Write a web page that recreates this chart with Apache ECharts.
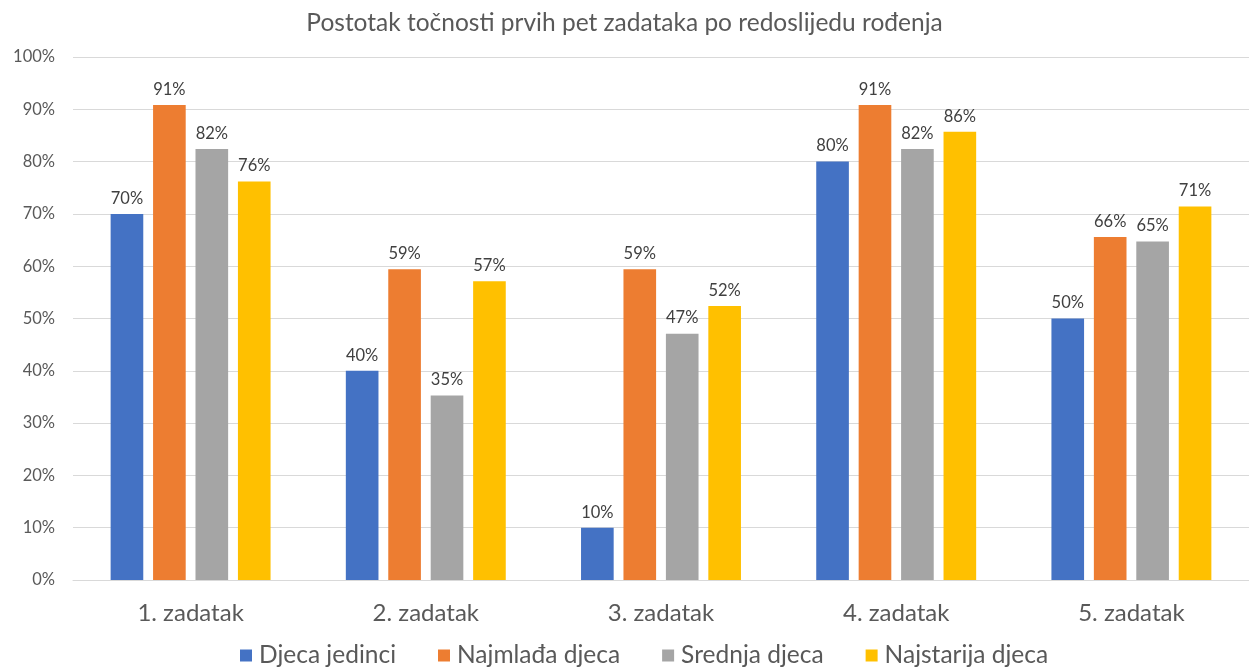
<!DOCTYPE html>
<html><head><meta charset="utf-8">
<script src="https://cdn.jsdelivr.net/npm/echarts@6/dist/echarts.min.js"></script>
<style>html,body{margin:0;padding:0;background:#fff}#c{width:1249px;height:671px}</style>
</head><body><div id="c"></div>
<script>
const categories = ['1. zadatak','2. zadatak','3. zadatak','4. zadatak','5. zadatak'];
const seriesNames = ['Djeca jedinci','Najmlađa djeca','Srednja djeca','Najstarija djeca'];
const djecaJedinci = [70, 40, 10, 80, 50];
const najmladaDjeca = [90.8, 59.4, 59.4, 90.8, 65.6];
const srednjaDjeca = [82.4, 35.3, 47.1, 82.4, 64.7];
const najstarijaDjeca = [76.2, 57.1, 52.4, 85.7, 71.4];
const yTicks = [0,10,20,30,40,50,60,70,80,90,100];
const colors = ['#4472C4','#ED7D31','#A5A5A5','#FFC000'];
const FONT = 'Lato';
const values = [djecaJedinci, najmladaDjeca, srednjaDjeca, najstarijaDjeca];
const chart = echarts.init(document.getElementById('c'));
chart.setOption({
  animation:false,
  title:{text:'Postotak točnosti prvih pet zadataka po redoslijedu rođenja',left:'center',top:6,
    textStyle:{fontFamily:FONT,fontSize:24.5,fontWeight:'normal',color:'#595959'}},
  legend:{data:seriesNames,bottom:-2,left:235,itemWidth:12,itemHeight:12,itemGap:42,icon:'rect',
    textStyle:{fontFamily:FONT,fontSize:24.5,color:'#595959',padding:[0,0,0,2]}},
  grid:{left:73,top:57,width:1184,height:523,containLabel:false},
  xAxis:{type:'category',data:categories,
    axisLine:{lineStyle:{color:'#D9D9D9',width:1}},axisTick:{show:false},
    axisLabel:{fontFamily:FONT,fontSize:24,color:'#595959',margin:21}},
  yAxis:{type:'value',min:yTicks[0],max:yTicks[yTicks.length-1],interval:10,
    axisLine:{show:false},axisTick:{show:false},
    splitLine:{lineStyle:{color:'#D9D9D9',width:1}},
    axisLabel:{fontFamily:FONT,fontSize:16.5,color:'#595959',margin:18,formatter:v=>v+'%'}},
  series: seriesNames.map((n,i)=>({
    name:n,type:'bar',data:values[i],barGap:'30%',barCategoryGap:'32%',
    itemStyle:{color:colors[i]},
    label:{show:true,position:'top',distance:7,fontFamily:FONT,fontSize:16.5,color:'#404040',
      formatter:p=>Math.round(p.value)+'%'}
  }))
});
</script></body></html>
